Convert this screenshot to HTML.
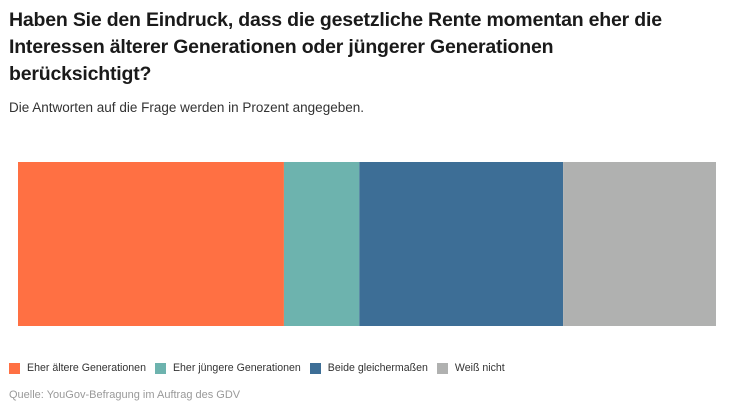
<!DOCTYPE html>
<html><head><meta charset="utf-8"><style>
body{margin:0;width:735px;height:413px;background:#fff;font-family:"Liberation Sans",sans-serif;position:relative;overflow:hidden}
#title{position:absolute;left:9px;top:7px;width:720px;font-size:19.5px;font-weight:bold;line-height:27px;color:#1a1a1a;letter-spacing:-0.2px}
#sub{position:absolute;left:9px;top:100px;font-size:13.5px;color:#333}
#legend{position:absolute;left:9px;top:362px;font-size:10.6px;color:#333;display:flex}
.li{display:flex;align-items:center;margin-right:9px}
.sw{width:11px;height:11px;margin-right:7px}
#src{position:absolute;left:9px;top:389px;font-size:11px;color:#999}
</style></head><body>
<div id="title">Haben Sie den Eindruck, dass die gesetzliche Rente momentan eher die<br>Interessen älterer Generationen oder jüngerer Generationen<br>berücksichtigt?</div>
<div id="sub">Die Antworten auf die Frage werden in Prozent angegeben.</div>
<svg id="chart" style="position:absolute;left:0;top:0" width="735" height="413"></svg>
<div id="legend"></div>
<div id="src">Quelle: YouGov-Befragung im Auftrag des GDV</div>
<script>
const categories = ["Eher ältere Generationen","Eher jüngere Generationen","Beide gleichermaßen","Weiß nicht"];
const values = [38.1, 10.8, 29.2, 21.9];
const colors = ["#ff7043","#6db3ae","#3d6e96","#b0b1b0"];
const x0=18, x1=716, y0=162, y1=326;
const total = values.reduce((a,b)=>a+b,0);
const xs = v => (x1-x0)*v/total;
const svg=document.getElementById('chart');
let cx=x0;
values.forEach((v,i)=>{
  const r=document.createElementNS('http://www.w3.org/2000/svg','rect');
  r.setAttribute('x',cx);r.setAttribute('y',y0);r.setAttribute('width',xs(v));r.setAttribute('height',y1-y0);r.setAttribute('fill',colors[i]);
  
  
  svg.appendChild(r);cx+=xs(v);
});
const lg=document.getElementById('legend');
categories.forEach((c,i)=>{
  const d=document.createElement('div');d.className='li';
  
  
  d.innerHTML='<span class="sw" style="background:'+colors[i]+'"></span>'+c;
  lg.appendChild(d);
});
</script>
</body></html>
